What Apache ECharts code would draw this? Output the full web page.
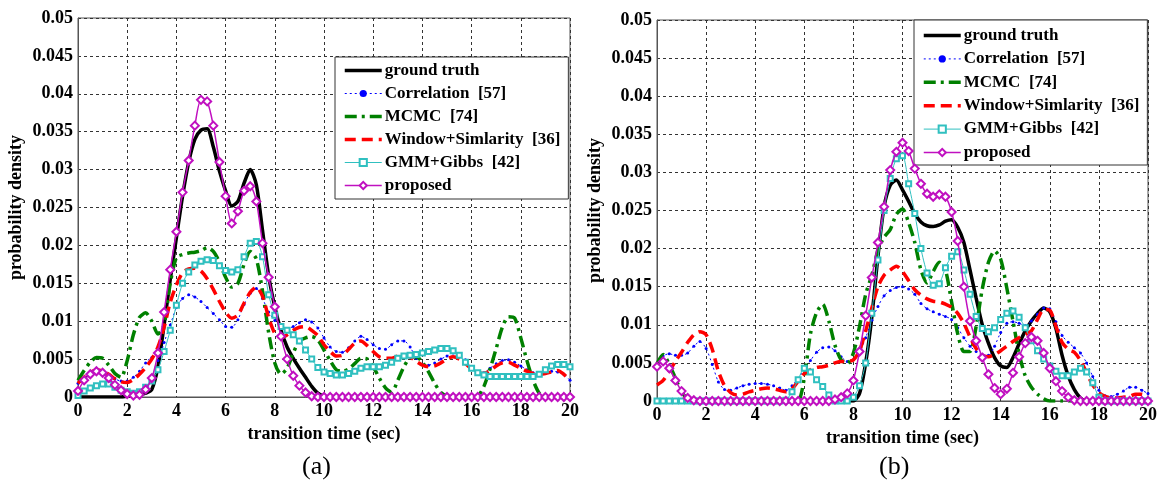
<!DOCTYPE html>
<html>
<head>
<meta charset="utf-8">
<script src="https://cdn.jsdelivr.net/npm/echarts@6/dist/echarts.min.js"></script>
<style>
html,body{margin:0;padding:0;background:#fff;}
#chart{width:1165px;height:485px;}
</style>
</head>
<body>
<div id="chart"></div>
<script>
// x positions (sec), step 0.25
const xs = [
  0,0.25,0.5,0.75,1,1.25,1.5,1.75,
  2,2.25,2.5,2.75,3,3.25,3.5,3.75,
  4,4.25,4.5,4.75,5,5.25,5.5,5.75,
  6,6.25,6.5,6.75,7,7.25,7.5,7.75,
  8,8.25,8.5,8.75,9,9.25,9.5,9.75,
  10,10.25,10.5,10.75,11,11.25,11.5,11.75,
  12,12.25,12.5,12.75,13,13.25,13.5,13.75,
  14,14.25,14.5,14.75,15,15.25,15.5,15.75,
  16,16.25,16.5,16.75,17,17.25,17.5,17.75,
  18,18.25,18.5,18.75,19,19.25,19.5,19.75,
  20
];

const seriesNames = ['ground truth','Correlation  [57]','MCMC  [74]','Window+Simlarity  [36]','GMM+Gibbs  [42]','proposed'];
const xTicks = [0,2,4,6,8,10,12,14,16,18,20];
const yTicks = [0,0.005,0.01,0.015,0.02,0.025,0.03,0.035,0.04,0.045,0.05];
const xLabel = 'transition time (sec)';
const yLabel = 'probability density';
const panelLabels = ['(a)','(b)'];

// ---------- panel (a) ----------
const gtA = [
  0,0,0,0,0,0,0,0,
  0.0001,0.0002,0.0003,0.0005,0.001,0.004,0.0095,0.0155,
  0.021,0.0265,0.031,0.034,0.0352,0.0354,0.033,0.0298,
  0.0272,0.0252,0.0258,0.0282,0.03,0.028,0.022,0.016,
  0.0119,0.0088,0.0066,0.0051,0.0038,0.0026,0.0014,0.0005,
  0.0001,0,0,0,0,0,0,0,
  0,0,0,0,0,0,0,0,
  0,0,0,0,0,0,0,0,
  0,0,0,0,0,0,0,0,
  0,0,0,0,0,0,0,0,
  0
];
const corrA = [
  0.0018,0.0025,0.003,0.0033,0.0034,0.0029,0.0024,0.0021,
  0.0021,0.0026,0.0034,0.0045,0.0052,0.0048,0.0072,0.0095,
  0.0118,0.013,0.0135,0.0132,0.0126,0.0118,0.011,0.0102,
  0.0093,0.0092,0.0102,0.0122,0.0137,0.0143,0.013,0.0112,
  0.0101,0.0094,0.009,0.0093,0.0098,0.0102,0.0099,0.0091,
  0.0078,0.0066,0.006,0.0059,0.0065,0.0074,0.008,0.0076,
  0.0069,0.0064,0.0063,0.0069,0.0074,0.0074,0.0066,0.0051,
  0.0043,0.0042,0.0045,0.005,0.0054,0.0058,0.0056,0.0049,
  0.0039,0.0031,0.0032,0.0038,0.0044,0.0048,0.0049,0.0046,
  0.0041,0.0036,0.0032,0.0031,0.0033,0.0034,0.0033,0.003,
  0.0022
];
const mcmcA = [
  0.0022,0.0035,0.0046,0.0052,0.0051,0.0042,0.0031,0.0026,
  0.0048,0.0082,0.0105,0.0111,0.01,0.0083,0.0095,0.015,
  0.0184,0.0188,0.019,0.0191,0.0193,0.0197,0.0192,0.0178,
  0.0158,0.0145,0.015,0.0175,0.0192,0.0182,0.014,0.0085,
  0.0045,0.003,0.0038,0.0058,0.0074,0.0078,0.008,0.0075,
  0.0062,0.0048,0.0036,0.0034,0.0037,0.0044,0.0051,0.005,
  0.004,0.0025,0.0012,0.0006,0.0022,0.004,0.0052,0.0053,
  0.0046,0.0033,0.0018,0.0006,0.0001,0,0,0,
  0,0.0001,0.0014,0.0037,0.0064,0.0092,0.0106,0.0104,
  0.0078,0.0048,0.0022,0.0005,0,0,0,0,
  0
];
const winA = [
  0.0018,0.0026,0.0032,0.0036,0.0034,0.003,0.0024,0.002,
  0.0019,0.0023,0.003,0.0039,0.005,0.0066,0.0092,0.0125,
  0.0148,0.0164,0.0169,0.017,0.0166,0.0156,0.0142,0.0126,
  0.0112,0.0104,0.0108,0.0124,0.0138,0.0145,0.0133,0.0105,
  0.0084,0.0078,0.0082,0.0088,0.0092,0.0093,0.0088,0.0081,
  0.0069,0.006,0.0054,0.0055,0.0063,0.0071,0.0074,0.0068,
  0.006,0.0053,0.0051,0.0051,0.0054,0.0055,0.0053,0.0047,
  0.0042,0.004,0.0041,0.0045,0.005,0.0053,0.005,0.0044,
  0.0037,0.0032,0.0031,0.0035,0.0041,0.0045,0.0046,0.0042,
  0.0038,0.0034,0.0031,0.003,0.0031,0.0033,0.0035,0.003,
  0.0022
];
const gmmA = [
  0.0002,0.0008,0.0012,0.0015,0.0017,0.0017,0.0013,0.0009,
  0.0007,0.0005,0.0007,0.0013,0.0021,0.0036,0.006,0.0088,
  0.0121,0.015,0.0165,0.0174,0.0179,0.0181,0.018,0.0173,
  0.0167,0.0165,0.0168,0.0185,0.0203,0.0205,0.0185,0.0135,
  0.0108,0.0093,0.0088,0.0082,0.0074,0.0062,0.005,0.0039,
  0.0033,0.0031,0.0029,0.0029,0.0031,0.0034,0.0038,0.004,
  0.004,0.004,0.0042,0.0046,0.0051,0.0054,0.0055,0.0056,
  0.0058,0.006,0.0062,0.0064,0.0064,0.0061,0.0055,0.0046,
  0.0038,0.0032,0.0029,0.0027,0.0027,0.0027,0.0027,0.0027,
  0.0027,0.0027,0.0027,0.003,0.0036,0.0041,0.0043,0.0043,
  0.004
];
const propA = [
  0.0008,0.0022,0.003,0.0034,0.0032,0.0025,0.0016,0.0009,
  0.0004,0.0002,0.0003,0.001,0.0025,0.0058,0.0112,0.0168,
  0.0218,0.027,0.0312,0.0358,0.0392,0.039,0.0358,0.031,
  0.0265,0.0229,0.0245,0.0272,0.0278,0.0258,0.0203,0.0158,
  0.0119,0.008,0.005,0.0028,0.0015,0.0006,0.0001,0,
  0,0,0,0,0,0,0,0,
  0,0,0,0,0,0,0,0,
  0,0,0,0,0,0,0,0,
  0,0,0,0,0,0,0,0,
  0,0,0,0,0,0,0,0,
  0
];

// ---------- panel (b) ----------
const gtB = [
  0,0,0,0,0,0,0,0,
  0,0,0,0,0,0,0,0,
  0,0,0,0,0,0,0,0,
  0,0,0,0,0,0,0,0,
  0,0.001,0.005,0.011,0.019,0.0255,0.0283,0.029,
  0.0277,0.0262,0.0246,0.0235,0.023,0.0229,0.0231,0.0236,
  0.0238,0.0228,0.0208,0.0172,0.0135,0.01,0.0076,0.0057,
  0.0046,0.0044,0.0057,0.0075,0.0092,0.0105,0.0115,0.0122,
  0.0117,0.0095,0.006,0.0033,0.0015,0.0004,0,0,
  0,0,0,0,0,0,0,0,
  0
];
const corrB = [
  0.0045,0.0059,0.0062,0.006,0.006,0.0063,0.0072,0.0078,
  0.0069,0.0048,0.0025,0.0015,0.0014,0.0017,0.002,0.0022,
  0.0023,0.0023,0.0022,0.002,0.0017,0.0014,0.002,0.003,
  0.0041,0.0053,0.0064,0.007,0.0071,0.0066,0.0058,0.0052,
  0.0054,0.0063,0.0083,0.0106,0.0124,0.0138,0.0145,0.0149,
  0.015,0.0147,0.014,0.0128,0.0121,0.0117,0.0114,0.0111,
  0.0107,0.0096,0.0083,0.0072,0.0065,0.006,0.006,0.0072,
  0.009,0.0102,0.0104,0.0102,0.0099,0.0105,0.0114,0.0122,
  0.0121,0.0104,0.0086,0.0077,0.007,0.0063,0.005,0.0032,
  0.0014,0.0007,0.0006,0.0009,0.0013,0.0018,0.0018,0.0014,
  0.001
];
const mcmcB = [
  0.0049,0.0061,0.0048,0.003,0.0012,0.0003,0,0,
  0,0,0,0,0,0,0,0,
  0,0,0,0,0,0,0,0,
  0.003,0.0088,0.0116,0.0127,0.0105,0.0073,0.0054,0.0049,
  0.0063,0.0098,0.014,0.0165,0.0198,0.0215,0.0225,0.0245,
  0.0252,0.0234,0.0208,0.0172,0.0155,0.017,0.0182,0.0172,
  0.013,0.0088,0.0065,0.0065,0.0098,0.0147,0.0182,0.0197,
  0.0186,0.0148,0.0105,0.0062,0.0033,0.0018,0.0009,0.0003,
  0,0,0,0,0,0,0,0,
  0,0,0,0,0,0,0,0,
  0
];
const winB = [
  0.0021,0.0027,0.0039,0.0052,0.0064,0.0077,0.0087,0.0091,
  0.0087,0.0068,0.0039,0.002,0.0011,0.0008,0.0009,0.0012,
  0.0014,0.0016,0.0017,0.0016,0.0014,0.0012,0.0016,0.0026,
  0.0036,0.0041,0.0044,0.0045,0.0047,0.005,0.0052,0.0052,
  0.0054,0.0066,0.0092,0.0122,0.015,0.0165,0.0172,0.0177,
  0.017,0.0158,0.0146,0.0139,0.0134,0.0131,0.013,0.0127,
  0.0123,0.0115,0.0102,0.0084,0.0069,0.006,0.0058,0.0061,
  0.0066,0.0072,0.0078,0.0083,0.0087,0.0092,0.0107,0.012,
  0.0119,0.0098,0.0077,0.0068,0.0064,0.0053,0.0037,0.0021,
  0.0011,0.0006,0.0004,0.0004,0.0005,0.0006,0.0009,0.0009,
  0.0006
];
const gmmB = [
  0,0,0,0,0,0,0,0,
  0,0,0,0,0,0,0,0,
  0,0,0,0,0,0.0001,0.0012,0.0028,
  0.0043,0.0038,0.0028,0.0019,0.0008,0,0,0,
  0.0005,0.002,0.005,0.0115,0.0185,0.025,0.0292,0.0318,
  0.0322,0.0285,0.0246,0.02,0.0168,0.0152,0.0154,0.0175,
  0.019,0.0196,0.0172,0.014,0.0111,0.0095,0.0091,0.0096,
  0.0107,0.0115,0.0118,0.011,0.0096,0.0079,0.0066,0.0055,
  0.0046,0.0039,0.0033,0.0033,0.0038,0.0043,0.0038,0.0024,
  0.0005,0,0,0,0,0,0,0,
  0
];
const propB = [
  0.0045,0.0052,0.0043,0.0027,0.0013,0.0004,0.0001,0,
  0,0,0,0,0,0,0,0,
  0,0,0,0,0,0,0,0,
  0,0,0,0,0,0.0002,0.0005,0.001,
  0.0027,0.0065,0.0112,0.0162,0.0208,0.0255,0.0303,0.0327,
  0.0339,0.0328,0.0305,0.0285,0.0272,0.0268,0.0271,0.0268,
  0.0248,0.021,0.015,0.0105,0.0079,0.0057,0.0035,0.0017,
  0.0009,0.0016,0.0037,0.0058,0.0076,0.0084,0.0079,0.0063,
  0.0043,0.0026,0.0013,0.0005,0.0001,0,0,0,
  0,0,0,0,0,0,0,0,
  0
];

const panelData = [
  [gtA, corrA, mcmcA, winA, gmmA, propA],
  [gtB, corrB, mcmcB, winB, gmmB, propB]
];

// ---------- styles ----------
const FONT = 'Liberation Serif';
const NOFILL = 'rgba(0,0,0,0)';
const styles = [
  {symbol:'none', lineStyle:{color:'#000', width:3.5, type:'solid'}, itemStyle:{color:NOFILL, borderColor:NOFILL, borderWidth:0}},
  {symbol:'circle', symbolSize:3, lineStyle:{color:'#0000ff', width:1, type:[2,3]}, itemStyle:{color:'#0000ff'}},
  {symbol:'none', lineStyle:{color:'#008000', width:3.5, type:[12,5,3,5]}, itemStyle:{color:NOFILL, borderColor:NOFILL, borderWidth:0}},
  {symbol:'none', lineStyle:{color:'#ff0000', width:3.5, type:[11,6]}, itemStyle:{color:NOFILL, borderColor:NOFILL, borderWidth:0}},
  {symbol:'emptyRect', symbolSize:5, lineStyle:{color:'#30c0c0', width:1, type:'solid'}, itemStyle:{color:'#30c0c0', borderWidth:1}},
  {symbol:'emptyDiamond', symbolSize:8, lineStyle:{color:'#c010c0', width:1.5, type:'solid'}, itemStyle:{color:'#c010c0', borderWidth:1.5}}
];

const grids = [
  {left:78, top:18, width:492, height:379},
  {left:657, top:20, width:491, height:381}
];

const axisFont = {fontFamily:FONT, fontWeight:'bold', fontSize:18, color:'#000'};
const nameFont = {fontFamily:FONT, fontWeight:'bold', fontSize:18, color:'#000'};
const legendText = {fontFamily:FONT, fontWeight:'bold', fontSize:17, color:'#000', padding:[0,0,0,-2]};
const legendLine = {width:'inherit', type:'inherit', color:'inherit'};

const option = {
  animation:false,
  backgroundColor:'#fff',
  grid: grids.map(g => Object.assign({show:true, borderColor:'#555', borderWidth:1, backgroundColor:'#fff'}, g)),
  xAxis: grids.map((g,i) => ({
    type:'value', gridIndex:i, min:xTicks[0], max:xTicks[xTicks.length-1], interval:2,
    name:xLabel, nameLocation:'middle', nameGap:22, nameTextStyle:nameFont,
    axisLine:{onZero:false, lineStyle:{color:'#555', width:1}},
    axisTick:{show:false},
    axisLabel:Object.assign({margin:5}, axisFont),
    splitLine:{show:true, lineStyle:{color:'#333', width:1, type:[3,3]}}
  })),
  yAxis: grids.map((g,i) => ({
    type:'value', gridIndex:i, min:yTicks[0], max:yTicks[yTicks.length-1], interval:0.005,
    name:yLabel, nameLocation:'middle', nameGap:53, nameRotate:90, nameTextStyle:nameFont,
    axisLine:{lineStyle:{color:'#555', width:1}},
    axisTick:{show:false},
    axisLabel:Object.assign({margin:5, formatter:v => (v===0 ? '0' : String(+v.toFixed(3)))}, axisFont),
    splitLine:{show:true, lineStyle:{color:'#333', width:1, type:[3,3]}}
  })),
  legend: [
    {left:335, top:57, orient:'vertical', padding:[5,8,5,8], itemGap:6, itemWidth:37, itemHeight:9,
     backgroundColor:'#fff', borderColor:'#333', borderWidth:1, borderRadius:0,
     lineStyle:legendLine, textStyle:legendText, data:seriesNames, selectedMode:false},
    {left:914, top:20, orient:'vertical', padding:[7,8,4,8], itemGap:6.4, itemWidth:37, itemHeight:9,
     backgroundColor:'#fff', borderColor:'#333', borderWidth:1, borderRadius:0,
     lineStyle:legendLine, textStyle:legendText, data:seriesNames, selectedMode:false}
  ],
  graphic: [
    {type:'text', left:302, top:454, style:{text:panelLabels[0], font:'26px "Liberation Serif"', fill:'#000'}},
    {type:'text', left:879, top:454, style:{text:panelLabels[1], font:'26px "Liberation Serif"', fill:'#000'}}
  ],
  series: []
};

panelData.forEach((arrs, p) => {
  arrs.forEach((vals, k) => {
    const st = styles[k];
    option.series.push({
      type:'line', name:seriesNames[k], xAxisIndex:p, yAxisIndex:p,
      data: xs.map((x,i) => [x, vals[i]]),
      smooth:0.25, showSymbol: st.symbol !== 'none', showAllSymbol:true,
      symbol:st.symbol, symbolSize:st.symbolSize || 4,
      lineStyle:st.lineStyle, itemStyle:st.itemStyle,
      emphasis:{disabled:true}, z: 2 + k
    });
  });
});

const chart = echarts.init(document.getElementById('chart'), null, {renderer:'canvas'});
chart.setOption(option);
</script>
</body>
</html>
